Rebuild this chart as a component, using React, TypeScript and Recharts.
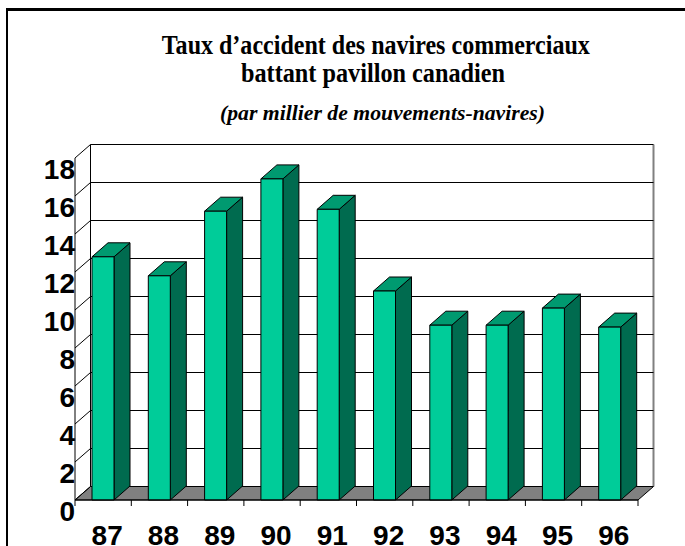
import React from 'react';
import { BarChart, Bar, XAxis, YAxis, CartesianGrid } from 'recharts';

const years = ['87', '88', '89', '90', '91', '92', '93', '94', '95', '96'];
const rates = [12.8, 11.8, 15.2, 16.9, 15.3, 11.0, 9.2, 9.2, 10.1, 9.1];
const yTicks = [0, 2, 4, 6, 8, 10, 12, 14, 16, 18];
const titleLines = ['Taux d\u2019accident des navires commerciaux', 'battant pavillon canadien'];
const subtitle = '(par millier de mouvements-navires)';

const data = years.map((year, i) => ({ year, rate: rates[i] }));

const W = 685;
const H = 546;
const MARGIN = { top: 158, right: 47, bottom: 0, left: 0 };
const Y_AXIS_W = 75;
const X_AXIS_H = 46;
const PLOT_BOTTOM = H - MARGIN.bottom - X_AXIS_H;

const WALL_DX = 15.5;
const WALL_DY = 13.5;
const BAR_DX = 16;
const BAR_DY = 14;

const FRONT = '#00CC99';
const TOP = '#009A70';
const SIDE = '#006B4F';
const FLOOR = '#808080';
const SANS = '"Liberation Sans", Arial, sans-serif';
const SERIF = '"Liberation Serif", "Times New Roman", serif';

function Bar3D(props: any) {
  const { x, y, width, height } = props;
  if (width == null || height == null) return null;
  const r = x + width;
  const b = y + height;
  return (
    <g stroke="#000" strokeWidth={1} strokeLinejoin="round">
      <polygon
        points={`${r},${y} ${r + BAR_DX},${y - BAR_DY} ${r + BAR_DX},${b - BAR_DY} ${r},${b}`}
        fill={SIDE}
      />
      <polygon
        points={`${x},${y} ${x + BAR_DX},${y - BAR_DY} ${r + BAR_DX},${y - BAR_DY} ${r},${y}`}
        fill={TOP}
      />
      <rect x={x} y={y} width={width} height={height} fill={FRONT} />
    </g>
  );
}

function WallLine(props: any) {
  const { x1, y1, x2, y, height } = props;
  const bottom = y + height;
  const isFloor = Math.abs(y1 - bottom) < 0.5;
  return (
    <g key={`wall-${props.index}`}>
      {isFloor && (
        <g>
          <polygon
            points={`${x1},${y1} ${x1 + WALL_DX},${y1 - WALL_DY} ${x2 + WALL_DX},${y1 - WALL_DY} ${x2},${y1}`}
            fill={FLOOR}
            stroke="#000"
            strokeWidth={1}
          />
          <line
            x1={x1 + WALL_DX}
            y1={y - WALL_DY}
            x2={x1 + WALL_DX}
            y2={bottom - WALL_DY}
            stroke="#000"
            strokeWidth={1}
          />
          <line
            x1={x2 + WALL_DX}
            y1={y - WALL_DY}
            x2={x2 + WALL_DX}
            y2={bottom - WALL_DY}
            stroke="#808080"
            strokeWidth={2}
          />
        </g>
      )}
      <line x1={x1} y1={y1} x2={x1 + WALL_DX} y2={y1 - WALL_DY} stroke="#000" strokeWidth={1} />
      <line
        x1={x1 + WALL_DX}
        y1={y1 - WALL_DY}
        x2={x2 + WALL_DX}
        y2={y1 - WALL_DY}
        stroke="#000"
        strokeWidth={1}
      />
    </g>
  );
}

function YTick(props: any) {
  const { y, payload } = props;
  return (
    <text
      x={Y_AXIS_W}
      y={y + 21}
      textAnchor="end"
      fontFamily={SANS}
      fontWeight="bold"
      fontSize={28}
      fill="#000"
    >
      {payload.value}
    </text>
  );
}

function XTick(props: any) {
  const { x, payload } = props;
  const fallback = (W - MARGIN.right - Y_AXIS_W - MARGIN.left) / years.length / 2;
  const half = typeof payload.offset === 'number' && payload.offset > 0 ? payload.offset : fallback;
  return (
    <g>
      <line x1={x + half} y1={PLOT_BOTTOM} x2={x + half} y2={PLOT_BOTTOM + 6} stroke="#000" />
      {payload.index === 0 && (
        <line x1={x - half} y1={PLOT_BOTTOM} x2={x - half} y2={PLOT_BOTTOM + 6} stroke="#000" />
      )}
      <text
        x={x + 4}
        y={PLOT_BOTTOM + 45}
        textAnchor="middle"
        fontFamily={SANS}
        fontWeight="bold"
        fontSize={28}
        fill="#000"
      >
        {payload.value}
      </text>
    </g>
  );
}

export default function App() {
  return (
    <div
      style={{
        position: 'fixed',
        left: 0,
        top: 0,
        width: W,
        height: H,
        overflow: 'hidden',
        background: '#fff',
      }}
    >
      <div
        style={{
          position: 'absolute',
          left: 6,
          top: 8,
          width: 700,
          height: 600,
          borderTop: '3px solid #000',
          borderLeft: '2.5px solid #000',
          boxSizing: 'border-box',
        }}
      />
      <svg
        width={W}
        height={140}
        style={{ position: 'absolute', left: 0, top: 0, pointerEvents: 'none' }}
      >
        <text
          x={375.8}
          y={54}
          textAnchor="middle"
          fontFamily={SERIF}
          fontWeight="bold"
          fontSize={27}
          textLength={428}
          lengthAdjust="spacingAndGlyphs"
          fill="#000"
        >
          {titleLines[0]}
        </text>
        <text
          x={373}
          y={82}
          textAnchor="middle"
          fontFamily={SERIF}
          fontWeight="bold"
          fontSize={27}
          textLength={264}
          lengthAdjust="spacingAndGlyphs"
          fill="#000"
        >
          {titleLines[1]}
        </text>
        <text
          x={382.5}
          y={120}
          textAnchor="middle"
          fontFamily={SERIF}
          fontWeight="bold"
          fontStyle="italic"
          fontSize={21.5}
          textLength={325}
          lengthAdjust="spacingAndGlyphs"
          fill="#000"
        >
          {subtitle}
        </text>
      </svg>
      <div style={{ position: 'absolute', left: 0, top: 0 }}>
        <BarChart width={W} height={H} data={data} margin={MARGIN} barSize={22}>
          <CartesianGrid horizontal={WallLine as any} vertical={false} />
          <XAxis
            dataKey="year"
            height={X_AXIS_H}
            axisLine={{ stroke: '#000', strokeWidth: 1 }}
            tickLine={false}
            tick={XTick}
            interval={0}
          />
          <YAxis
            domain={[0, 18]}
            ticks={yTicks}
            width={Y_AXIS_W}
            axisLine={{ stroke: '#000', strokeWidth: 1 }}
            tickLine={false}
            tick={YTick}
            interval={0}
          />
          <Bar dataKey="rate" shape={Bar3D} isAnimationActive={false} />
        </BarChart>
      </div>
    </div>
  );
}
